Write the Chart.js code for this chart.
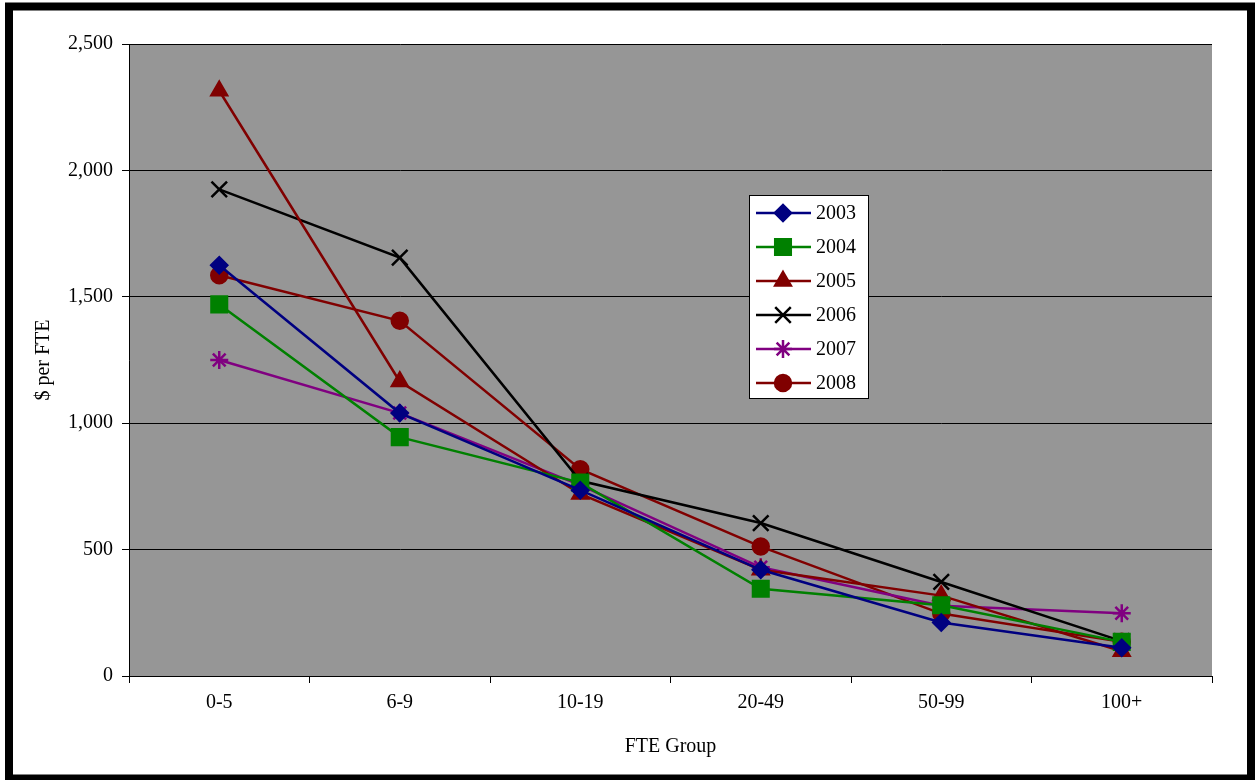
<!DOCTYPE html>
<html>
<head>
<meta charset="utf-8">
<script src="https://cdn.jsdelivr.net/npm/chart.js@4"></script>
<style>
  html, body { margin: 0; padding: 0; background: #fff; }
  #wrap { width: 1255px; height: 780px; }
</style>
</head>
<body>
<div id="wrap"><canvas id="chart" width="1255" height="780"></canvas></div>
<script>
const categories = ['0-5', '6-9', '10-19', '20-49', '50-99', '100+'];
const years = ['2003', '2004', '2005', '2006', '2007', '2008'];
const s2003 = [1625, 1040, 735, 420, 212, 112];
const s2004 = [1470, 945, 765, 345, 280, 135];
const s2005 = [2315, 1165, 720, 420, 318, 98];
const s2006 = [1925, 1655, 772, 605, 372, 138];
const s2007 = [1250, 1040, 755, 430, 278, 248];
const s2008 = [1585, 1405, 818, 512, 247, 135];
const yTicks = [0, 500, 1000, 1500, 2000, 2500];

const seriesValues = [s2003, s2004, s2005, s2006, s2007, s2008];
const colors = ['#000080', '#008000', '#800000', '#000000', '#800080', '#800000'];
const styles = ['rectRot', 'rect', 'triangle', 'crossRot', 'star', 'circle'];
const radii = [8, 11, 9, 11, 9, 8];

const FONT = '"Liberation Serif", "Times New Roman", serif';

const datasets = years.map((y, i) => ({
  label: y,
  data: seriesValues[i],
  borderColor: colors[i],
  backgroundColor: colors[i],
  borderWidth: 2.5,
  pointStyle: styles[i],
  pointRadius: radii[i],
  pointHoverRadius: radii[i],
  pointBorderWidth: 2.5,
  pointBorderColor: colors[i],
  pointBackgroundColor: colors[i],
  tension: 0
}));

// gray plot area + outer frame + boxed legend inside the plot
const decor = {
  id: 'decor',
  beforeDraw(chart) {
    const { ctx, chartArea: a } = chart;
    ctx.save();
    ctx.fillStyle = '#969696';
    ctx.fillRect(a.left, a.top, a.right - a.left, a.bottom - a.top);
    ctx.restore();
  },
  afterDraw(chart) {
    const { ctx, chartArea: a } = chart;
    ctx.save();
    // legend
    const lx = a.left + 620, ly = a.top + 151, lw = 119, lh = 203;
    ctx.fillStyle = '#fff';
    ctx.fillRect(lx, ly, lw, lh);
    ctx.strokeStyle = '#000';
    ctx.lineWidth = 1;
    ctx.strokeRect(lx + 0.5, ly + 0.5, lw, lh);
    ctx.font = '20px ' + FONT;
    ctx.textBaseline = 'middle';
    chart.data.datasets.forEach((ds, i) => {
      const cy = ly + 18 + i * 34;
      ctx.strokeStyle = ds.borderColor;
      ctx.lineWidth = 2.5;
      ctx.beginPath();
      ctx.moveTo(lx + 7, cy);
      ctx.lineTo(lx + 62, cy);
      ctx.stroke();
      ctx.fillStyle = ds.backgroundColor;
      ctx.strokeStyle = ds.borderColor;
      Chart.helpers.drawPoint(ctx, {
        pointStyle: ds.pointStyle, radius: ds.pointRadius, rotation: 0, borderWidth: 2.5
      }, lx + 34, cy);
      ctx.fillStyle = '#000';
      ctx.fillText(ds.label, lx + 67, cy + 1);
    });
    // frame
    ctx.strokeStyle = '#000';
    ctx.lineWidth = 8;
    ctx.strokeRect(9, 6.5, 1242, 772);
    ctx.restore();
  }
};

new Chart(document.getElementById('chart'), {
  type: 'line',
  data: { labels: categories, datasets },
  options: {
    responsive: false,
    animation: false,
    layout: { padding: { left: 13, right: 43, top: 44, bottom: 10 } },
    plugins: { legend: { display: false }, tooltip: { enabled: false } },
    scales: {
      x: {
        offset: true,
        grid: { offset: true, drawOnChartArea: false, drawTicks: true, tickLength: 7, color: '#000' },
        border: { color: '#000', width: 1 },
        ticks: { color: '#000', font: { family: FONT, size: 20 }, padding: 8, maxRotation: 0 },
        title: { display: true, text: 'FTE Group', color: '#000', font: { family: FONT, size: 20 }, padding: { top: 0, bottom: 11 } },
        afterFit(s) { s.height = 94; }
      },
      y: {
        min: yTicks[0],
        max: yTicks[yTicks.length - 1],
        afterBuildTicks(s) { s.ticks = yTicks.map(v => ({ value: v })); },
        grid: { color: '#000', lineWidth: 1, tickLength: 7 },
        border: { color: '#000', width: 1 },
        ticks: {
          color: '#000', font: { family: FONT, size: 20 }, padding: 9,
          callback: v => v.toLocaleString('en-US')
        },
        title: { display: true, text: '$ per FTE', color: '#000', font: { family: FONT, size: 20 }, padding: { top: 19, bottom: 0 } },
        afterFit(s) { s.width = 116; }
      }
    }
  },
  plugins: [decor]
});
</script>
</body>
</html>
